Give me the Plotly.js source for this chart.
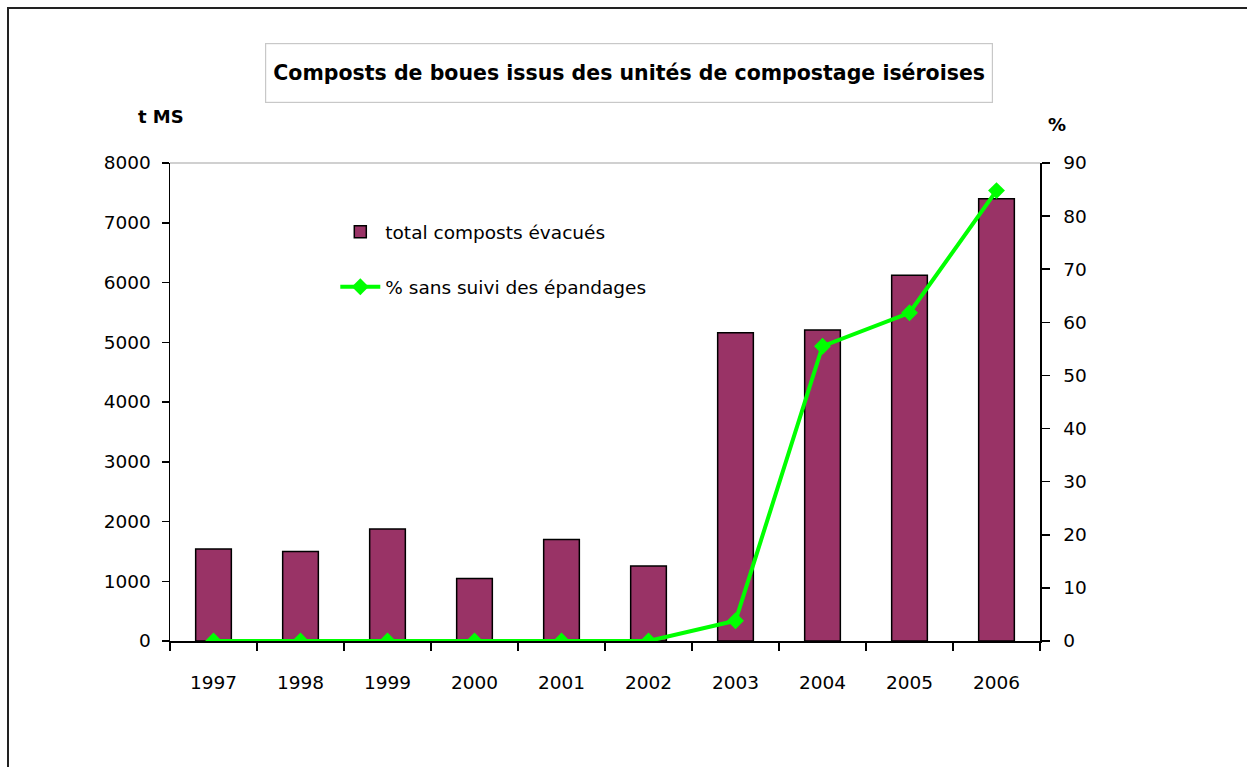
<!DOCTYPE html>
<html>
<head>
<meta charset="utf-8">
<script src="https://cdn.plot.ly/plotly-3.0.1.min.js"></script>
<style>
  html, body { margin: 0; padding: 0; background: #fff; }
  #chart { width: 1247px; height: 767px; }
  #frame { position: absolute; left: 7px; top: 7px; width: 1245px; height: 765px;
           border-top: 2px solid #222; border-left: 2px solid #222; pointer-events: none; }
</style>
</head>
<body>
<div id="chart"></div>
<div id="frame"></div>
<script>
const years = ['1997','1998','1999','2000','2001','2002','2003','2004','2005','2006'];
const totalComposts = [1540, 1500, 1875, 1045, 1700, 1255, 5160, 5205, 6120, 7400];
const pctSansSuivi = [0, 0, 0, 0, 0, 0, 3.8, 55.5, 61.8, 84.8];

const titleText = 'Composts de boues issus des unités de compostage iséroises';
const leftUnit = 't MS';
const rightUnit = '%';
const barName = 'total composts évacués';
const lineName = '% sans suivi des épandages';

const comic = '"Comic Sans MS", "DejaVu Sans", sans-serif';
const tickFont = { family: '"DejaVu Sans", Verdana, sans-serif', size: 18.5, color: '#000' };
const boundaries = years.map((_, i) => i - 0.5).concat([years.length - 0.5]);

const traces = [
  {
    type: 'bar', name: barName, x: years, y: totalComposts,
    marker: { color: '#993366', line: { color: '#000', width: 1.5 } },
    xaxis: 'x', yaxis: 'y', legendgroup: 'a'
  },
  {
    type: 'scatter', mode: 'lines+markers', name: lineName, x: years, y: pctSansSuivi,
    line: { color: '#00ff00', width: 4 },
    marker: { symbol: 'diamond', size: 13, color: '#00ff00' },
    xaxis: 'x', yaxis: 'y2', legendgroup: 'b'
  }
];

const layout = {
  width: 1247, height: 767,
  margin: { l: 170, r: 207, t: 163, b: 126, pad: 0 },
  paper_bgcolor: '#fff', plot_bgcolor: '#fff',
  showlegend: true,
  bargap: 0.59,
  legend: {
    x: 0.19, y: 0.895, xanchor: 'left', yanchor: 'top',
    bgcolor: 'rgba(0,0,0,0)', borderwidth: 0,
    font: { family: comic, size: 18.5, color: '#000' },
    traceorder: 'grouped', tracegroupgap: 28, itemwidth: 40
  },
  xaxis: {
    type: 'category', range: [-0.5, years.length - 0.5],
    showline: true, linecolor: '#000', linewidth: 1.5,
    ticks: 'outside', ticklen: 8, tickcolor: '#000', tickwidth: 1.5,
    tickson: 'boundaries', showgrid: false, zeroline: false,
    tickfont: tickFont, ticklabelstandoff: 24
  },
  xaxis2: {
    overlaying: 'x', anchor: 'y', type: 'linear', range: [-0.5, years.length - 0.5],
    tickmode: 'array', tickvals: boundaries, ticks: 'inside', ticklen: 8,
    tickcolor: '#000', tickwidth: 1.5, showticklabels: false,
    showgrid: false, zeroline: false, showline: false
  },
  yaxis: {
    range: [0, 8000], dtick: 1000, tick0: 0,
    showline: true, linecolor: '#000', linewidth: 1.5,
    ticks: 'outside', ticklen: 7, tickcolor: '#000', tickwidth: 1.5,
    showgrid: false, zeroline: false,
    tickfont: tickFont, ticklabelstandoff: 7
  },
  yaxis3: {
    overlaying: 'y', side: 'left', anchor: 'x', range: [0, 8000], dtick: 1000,
    ticks: 'inside', ticklen: 7, tickcolor: '#000', tickwidth: 1.5,
    showticklabels: false, showgrid: false, zeroline: false, showline: false
  },
  yaxis2: {
    overlaying: 'y', side: 'right', anchor: 'x', range: [0, 90], dtick: 10, tick0: 0,
    showline: true, linecolor: '#000', linewidth: 1.5,
    ticks: 'outside', ticklen: 8, tickcolor: '#000', tickwidth: 1.5,
    showgrid: false, zeroline: false,
    tickfont: tickFont, ticklabelstandoff: 10
  },
  yaxis4: {
    overlaying: 'y', side: 'right', anchor: 'x', range: [0, 90], dtick: 10,
    ticks: 'inside', ticklen: 8, tickcolor: '#000', tickwidth: 1.5,
    showticklabels: false, showgrid: false, zeroline: false, showline: false
  },
  shapes: [
    { type: 'line', xref: 'paper', yref: 'paper', x0: 0, x1: 1, y0: 1, y1: 1,
      line: { color: '#c0c0c0', width: 1.5 }, layer: 'below' }
  ],
  annotations: [
    {
      text: '<b>' + titleText + '</b>', xref: 'paper', yref: 'paper',
      x: 0.528, y: 1.188, xanchor: 'center', yanchor: 'middle', showarrow: false,
      font: { family: comic, size: 20.5, color: '#000' },
      width: 718, height: 50, borderpad: 4, bordercolor: '#c8c8c8', borderwidth: 1.2,
      bgcolor: '#fff'
    },
    {
      text: '<b>' + leftUnit + '</b>', xref: 'paper', yref: 'paper',
      x: -0.0103, y: 1.098, xanchor: 'center', yanchor: 'middle', showarrow: false,
      font: { family: comic, size: 18, color: '#000' }
    },
    {
      text: '<b>' + rightUnit + '</b>', xref: 'paper', yref: 'paper',
      x: 1.0195, y: 1.08, xanchor: 'center', yanchor: 'middle', showarrow: false,
      font: { family: comic, size: 18, color: '#000' }
    }
  ]
};

Plotly.newPlot('chart', traces, layout, { displayModeBar: false, staticPlot: true });
</script>
</body>
</html>
